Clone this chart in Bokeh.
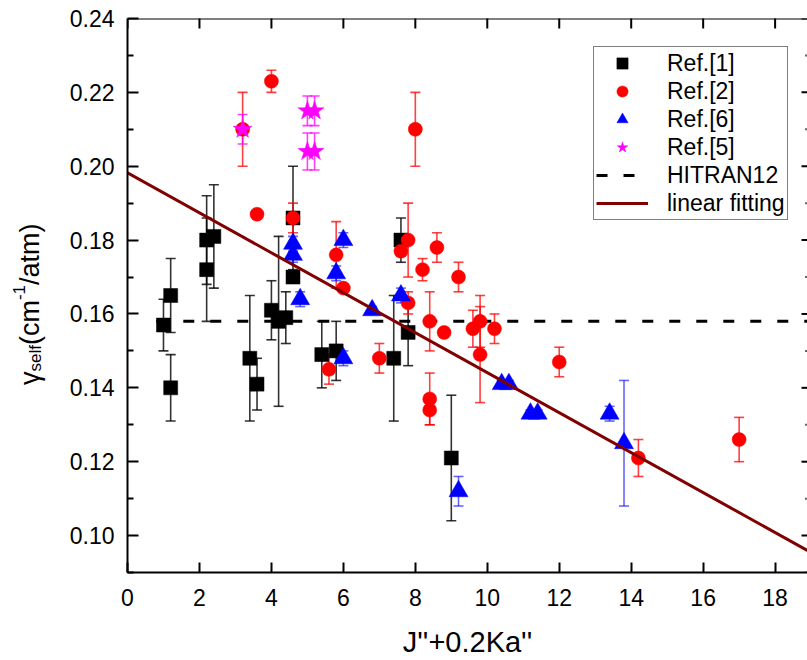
import numpy as np
from bokeh.plotting import figure
from bokeh.layouts import row
from bokeh.models import (ColumnDataSource, Whisker, TeeHead, LinearAxis, FixedTicker, Div,
                          Legend, LegendItem, Range1d, Span, CustomJSTickFormatter)
from bokeh.embed import file_html
from bokeh.resources import INLINE

# ---------------- data ----------------
ref1_x = [1.0, 1.2, 1.2, 2.2, 2.2, 2.4, 3.4, 3.6, 4.0, 4.2, 4.4, 4.6, 4.6, 5.4, 5.8, 7.4, 7.6, 7.8, 9.0]
ref1_y = [0.157, 0.165, 0.140, 0.180, 0.172, 0.181, 0.148, 0.141, 0.161, 0.158, 0.159, 0.186, 0.170,
          0.149, 0.150, 0.148, 0.180, 0.155, 0.121]
ref1_err = [0.007, 0.010, 0.009, 0.012, 0.014, 0.014, 0.017, 0.007, 0.008, 0.023, 0.007, 0.014, 0.0,
            0.009, 0.008, 0.017, 0.006, 0.009, 0.017]

ref2_x = [3.2, 3.6, 4.0, 4.6, 5.6, 5.8, 6.0, 7.0, 7.6, 7.8, 7.8, 8.0, 8.2, 8.4, 8.4, 8.4, 8.6, 8.8,
          9.2, 9.6, 9.8, 9.8, 10.2, 12.0, 14.2, 17.0]
ref2_y = [0.210, 0.187, 0.223, 0.186, 0.145, 0.176, 0.167, 0.148, 0.177, 0.180, 0.163, 0.210, 0.172,
          0.158, 0.137, 0.134, 0.178, 0.155, 0.170, 0.156, 0.158, 0.149, 0.156, 0.147, 0.121, 0.126]
ref2_err = [0.010, 0.0, 0.003, 0.004, 0.004, 0.009, 0.0, 0.004, 0.0, 0.010, 0.003, 0.010, 0.003,
            0.008, 0.007, 0.004, 0.004, 0.0, 0.004, 0.005, 0.007, 0.013, 0.004, 0.004, 0.005, 0.006]

ref6_x = [4.6, 4.6, 4.8, 5.8, 6.0, 6.0, 6.8, 7.6, 9.2, 10.4, 10.6, 11.2, 11.4, 13.4, 13.8]
ref6_y = [0.179, 0.176, 0.164, 0.171, 0.180, 0.148, 0.161, 0.165, 0.112, 0.141, 0.141, 0.133, 0.133,
          0.133, 0.125]
ref6_err = [0.002, 0.002, 0.002, 0.002, 0.002, 0.002, 0.001, 0.002, 0.004, 0.001, 0.001, 0.001, 0.001,
            0.002, 0.017]

ref5_x = [3.2, 5.0, 5.2, 5.0, 5.2]
ref5_y = [0.210, 0.215, 0.215, 0.204, 0.204]
ref5_err = [0.004, 0.004, 0.004, 0.005, 0.005]

hitran_value = 0.158
hitran_x = [0.8, 19.0]

fit_intercept = 0.1982
fit_slope = -0.00541
fit_x = [0.0, 19.0]

x_ticks = [0, 2, 4, 6, 8, 10, 12, 14, 16, 18]
y_ticks = [0.10, 0.12, 0.14, 0.16, 0.18, 0.20, 0.22, 0.24]
y_minor = [0.09, 0.11, 0.13, 0.15, 0.17, 0.19, 0.21, 0.23]

y_title_html = "γ<sub>self</sub>(cm<sup>-1</sup>/atm)"

X_MIN, X_MAX = 0.0, 18.9
Y_MIN, Y_MAX = 0.09, 0.24

FONT = "Liberation Sans"
LABEL_W = 60
TOTAL_W, TOTAL_H = 807, 660

# ---------------- y-title panel (HTML, rotated to read bottom-to-top) ----------------
ytitle = Div(
    text=(
        '<div style="position:absolute; left:13px; top:222px; width:34px; height:163px; '
        'writing-mode:vertical-rl; transform:rotate(180deg); '
        f"font-family:'{FONT}'; font-size:27px; line-height:34px; white-space:nowrap; "
        'color:black; margin:0; padding:0;">'
        + y_title_html.replace("<sub>", '<sub style="font-size:17px; line-height:0;">')
                      .replace("<sup>", '<sup style="font-size:17px; line-height:0;">')
        + "</div>"
    ),
    width=LABEL_W, height=TOTAL_H, margin=0,
    styles={"position": "relative", "overflow": "visible"},
)

# ---------------- main figure ----------------
p = figure(width=TOTAL_W - LABEL_W, height=TOTAL_H, output_backend="svg", toolbar_location=None,
           x_range=Range1d(X_MIN, X_MAX), y_range=Range1d(Y_MIN, Y_MAX),
           min_border_left=127 - LABEL_W, min_border_top=18, min_border_right=0, min_border_bottom=87,
           x_axis_location=None, y_axis_location=None)
p.grid.visible = False
p.outline_line_color = None
p.background_fill_color = "white"
p.border_fill_color = "white"


def style_axis(ax, ticks, minor, tick_len, minor_len):
    ax.ticker = FixedTicker(ticks=ticks, minor_ticks=minor)
    ax.axis_line_width = 2
    ax.axis_line_color = "black"
    ax.major_tick_in = tick_len
    ax.major_tick_out = 0
    ax.minor_tick_in = minor_len
    ax.minor_tick_out = 0
    ax.major_tick_line_width = 2
    ax.minor_tick_line_width = 2
    ax.major_label_text_font = FONT
    ax.major_label_text_font_size = "23px"
    ax.major_label_text_color = "black"


xb = LinearAxis()
style_axis(xb, x_ticks, [], 10, 0)
xb.major_label_standoff = 16
xb.axis_label = "J''+0.2Ka''"
xb.axis_label_text_font = FONT
xb.axis_label_text_font_size = "29px"
xb.axis_label_text_font_style = "normal"
xb.axis_label_text_color = "black"
xb.axis_label_standoff = 17
p.add_layout(xb, "below")

yl = LinearAxis()
style_axis(yl, y_ticks, y_minor, 11, 6)
yl.major_label_standoff = 13
yl.formatter = CustomJSTickFormatter(code="return tick.toFixed(2);")
p.add_layout(yl, "left")

# top frame line with inward ticks, and right-hand inward ticks (mirror axes)
p.add_layout(Span(location=Y_MAX, dimension="width", line_color="black", line_width=2))
p.scatter(x_ticks, [Y_MAX] * len(x_ticks), marker="dash", angle=np.pi / 2, size=20,
          line_color="black", line_width=2)
p.scatter([X_MAX] * len(y_ticks), y_ticks, marker="dash", size=12, line_color="black", line_width=2)
p.scatter([X_MAX] * len(y_minor), y_minor, marker="dash", size=5, line_color="#666666", line_width=2)

# ---------------- HITRAN12 dashed line ----------------
hl = p.line(hitran_x, [hitran_value, hitran_value], line_color="black", line_width=3,
            line_dash="11 16")


def series(xs, ys, errs, color, err_alpha, marker, size):
    src = ColumnDataSource(dict(x=xs, y=ys))
    ex = [x for x, e in zip(xs, errs) if e > 0]
    ey = [y for y, e in zip(ys, errs) if e > 0]
    ee = [e for e in errs if e > 0]
    esrc = ColumnDataSource(dict(x=ex, up=[a + b for a, b in zip(ey, ee)],
                                 lo=[a - b for a, b in zip(ey, ee)]))
    w = Whisker(base="x", upper="up", lower="lo", source=esrc, dimension="height",
                line_color=color, line_alpha=err_alpha, line_width=1.6, level="underlay",
                upper_head=TeeHead(size=10, line_color=color, line_alpha=err_alpha, line_width=1.6),
                lower_head=TeeHead(size=10, line_color=color, line_alpha=err_alpha, line_width=1.6))
    p.add_layout(w)
    r = p.scatter("x", "y", source=src, marker=marker, size=size, fill_color=color,
                  line_color=color, line_width=0.5)
    return r


r1 = series(ref1_x, ref1_y, ref1_err, "black", 0.8, "square", 14)
r2 = series(ref2_x, ref2_y, ref2_err, "#ff0000", 0.75, "circle", 14)
r6 = series(ref6_x, ref6_y, ref6_err, "#0000ff", 0.6, "triangle", 19)
r5 = series(ref5_x, ref5_y, ref5_err, "#ff00ff", 0.75, "star", 20)

# ---------------- linear fit ----------------
fx = np.array(fit_x)
fl = p.line(fx, fit_intercept + fit_slope * fx, line_color="#800000", line_width=3)

# ---------------- legend ----------------
legend = Legend(items=[
    LegendItem(label="Ref.[1]", renderers=[r1]),
    LegendItem(label="Ref.[2]", renderers=[r2]),
    LegendItem(label="Ref.[6]", renderers=[r6]),
    LegendItem(label="Ref.[5]", renderers=[r5]),
    LegendItem(label="HITRAN12", renderers=[hl]),
    LegendItem(label="linear fitting", renderers=[fl]),
], location=(466, 352))
legend.label_text_font = FONT
legend.label_text_font_size = "23px"
legend.label_text_color = "black"
legend.label_height = 26
legend.glyph_height = 28
legend.glyph_width = 52
legend.spacing = 0
legend.padding = 2
legend.margin = 0
legend.label_standoff = 19
legend.border_line_color = "black"
legend.border_line_width = 1.5
legend.background_fill_alpha = 1.0
p.add_layout(legend)

layout = row(ytitle, p, spacing=0)
open("out.html", "w").write(file_html(layout, INLINE))
